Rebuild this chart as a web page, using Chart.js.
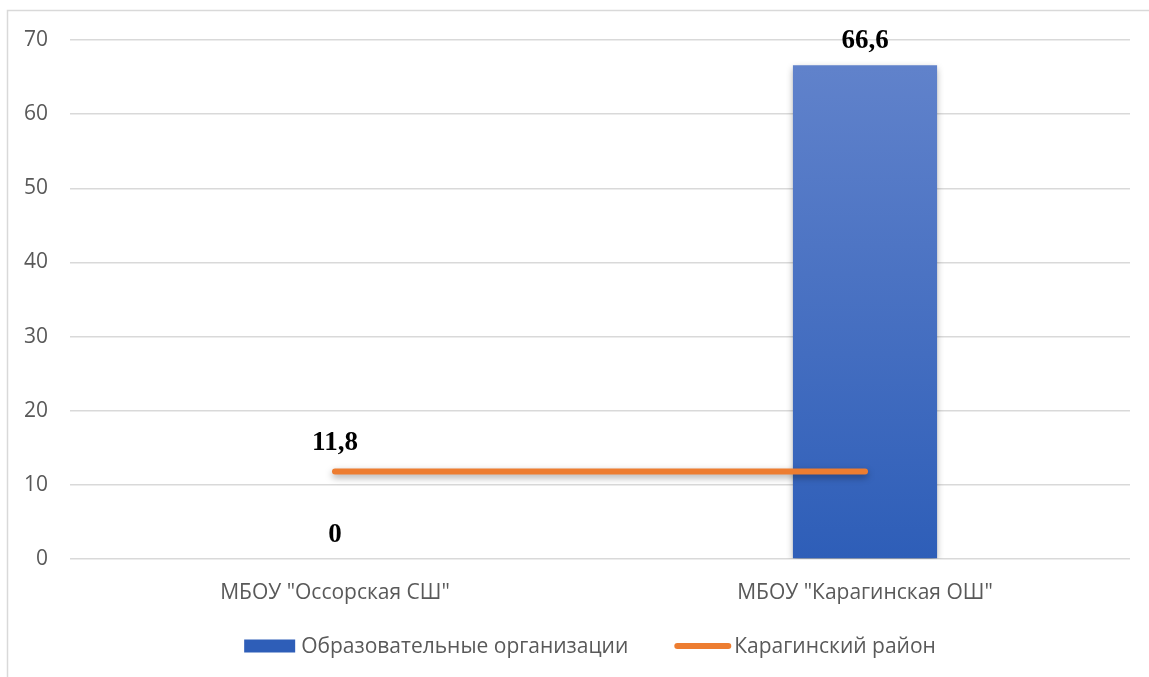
<!DOCTYPE html>
<html>
<head>
<meta charset="utf-8">
<script src="https://cdn.jsdelivr.net/npm/chart.js@4/dist/chart.umd.min.js"></script>
<style>
  html, body { margin: 0; padding: 0; background: #fff; }
  #wrap { width: 1149px; height: 677px; }
</style>
</head>
<body>
<div id="wrap"><canvas id="myChart"></canvas></div>
<script>
let categories = [
    'МБОУ "Оссорская СШ"',
    'МБОУ "Карагинская ОШ"',
];

let barLabel = 'Образовательные организации';
let barValues = [0, 66.6];

let lineLabel = 'Карагинский район';
let lineValues = [11.8, 11.8];
// which points of the line get a value label
let lineShowLabel = [true, false];

let yTicks = [0, 10, 20, 30, 40, 50, 60, 70];

let barTop = '#6384CC';
let barBottom = '#2E5EB8';
let lineColor = '#ED7D31';
let textFont = '21px "Open Sans", sans-serif';

function fmt(v) {
    return String(v).replace('.', ',');
}

// blue gradient like the office style bars
function barGradient(context) {
    let chart = context.chart;
    let area = chart.chartArea;
    if (!area) return '#4472C4';
    let g = chart.ctx.createLinearGradient(0, area.top, 0, area.bottom);
    g.addColorStop(0, barTop);
    g.addColorStop(1, barBottom);
    return g;
}

// frame around the chart (only left and top edges are visible)
let framePlugin = {
    id: 'frame',
    beforeDraw(chart) {
        let ctx = chart.ctx;
        ctx.save();
        ctx.strokeStyle = '#D9D9D9';
        ctx.lineWidth = 1.5;
        ctx.beginPath();
        ctx.moveTo(7.5, chart.height + 5);
        ctx.lineTo(7.5, 10.5);
        ctx.lineTo(chart.width + 5, 10.5);
        ctx.stroke();
        ctx.restore();
    }
};

// soft shadow under bars and line
let shadowPlugin = {
    id: 'shadow',
    beforeDatasetDraw(chart, args) {
        let ctx = chart.ctx;
        ctx.save();
        ctx.shadowColor = 'rgba(0,0,0,0.35)';
        ctx.shadowBlur = 7;
        ctx.shadowOffsetX = 0;
        ctx.shadowOffsetY = 3;
    },
    afterDatasetDraw(chart) {
        chart.ctx.restore();
    }
};

// value labels (bold serif, above the marks)
let valueLabels = {
    id: 'valueLabels',
    afterDatasetsDraw(chart) {
        let ctx = chart.ctx;
        ctx.save();
        ctx.font = 'bold 27px "Liberation Serif", "Times New Roman", serif';
        ctx.fillStyle = '#000';
        ctx.textAlign = 'center';
        ctx.textBaseline = 'middle';
        chart.data.datasets.forEach((ds, i) => {
            let meta = chart.getDatasetMeta(i);
            meta.data.forEach((el, j) => {
                if (ds.type === 'line' && !lineShowLabel[j]) return;
                let off = ds.type === 'line' ? 28 : 24;
                ctx.fillText(fmt(ds.data[j]), el.x, el.y - off);
            });
        });
        ctx.restore();
    }
};

// legend drawn by hand so the spacing matches the office layout
let bottomLegend = {
    id: 'bottomLegend',
    afterDraw(chart) {
        let ctx = chart.ctx;
        ctx.save();
        ctx.font = textFont;
        ctx.textBaseline = 'middle';
        let w1 = ctx.measureText(barLabel).width;
        let w2 = ctx.measureText(lineLabel).width;
        let total = 51 + 6 + w1 + 46 + 57 + 4 + w2;
        let x = chart.width / 2 + 16 - total / 2;
        let y = chart.height - 31;

        ctx.fillStyle = barBottom;
        ctx.fillRect(x, y - 6.5, 51, 13);
        x += 51 + 6;
        ctx.fillStyle = '#595959';
        ctx.fillText(barLabel, x, y + 1);
        x += w1 + 46;

        ctx.strokeStyle = lineColor;
        ctx.lineWidth = 6;
        ctx.lineCap = 'round';
        ctx.beginPath();
        ctx.moveTo(x + 3, y);
        ctx.lineTo(x + 54, y);
        ctx.stroke();
        x += 57 + 3;
        ctx.fillText(lineLabel, x, y + 1);
        ctx.restore();
    }
};

let myChart = document.getElementById('myChart').getContext('2d');

let chart = new Chart(myChart, {
    data: {
        labels: categories,
        datasets: [
            {
                type: 'line',
                label: lineLabel,
                data: lineValues,
                borderColor: lineColor,
                backgroundColor: lineColor,
                borderWidth: 6,
                borderCapStyle: 'round',
                pointRadius: 0,
                order: 0
            },
            {
                type: 'bar',
                label: barLabel,
                data: barValues,
                backgroundColor: barGradient,
                categoryPercentage: 1,
                barPercentage: 0.272,
                order: 1
            }
        ]
    },
    options: {
        responsive: true,
        maintainAspectRatio: false,
        animation: false,
        devicePixelRatio: 1,
        layout: {
            padding: { top: 40, right: 19, left: 0, bottom: 58 }
        },
        scales: {
            x: {
                grid: { display: false },
                border: { display: false },
                afterFit(scale) {
                    scale.height = 60;
                },
                ticks: {
                    color: '#595959',
                    font: { family: 'Open Sans', size: 21 },
                    padding: 13
                }
            },
            y: {
                min: 0,
                max: 70,
                afterBuildTicks(scale) {
                    scale.ticks = yTicks.map(v => ({ value: v }));
                },
                afterFit(scale) {
                    scale.width = 70;
                },
                grid: { color: '#D9D9D9', lineWidth: 1.5, drawTicks: false },
                border: { display: false },
                ticks: {
                    color: '#595959',
                    font: { family: 'Open Sans', size: 21 },
                    padding: 22
                }
            }
        },
        plugins: {
            legend: { display: false },
            tooltip: { enabled: false }
        }
    },
    plugins: [framePlugin, shadowPlugin, valueLabels, bottomLegend]
});
</script>
</body>
</html>
